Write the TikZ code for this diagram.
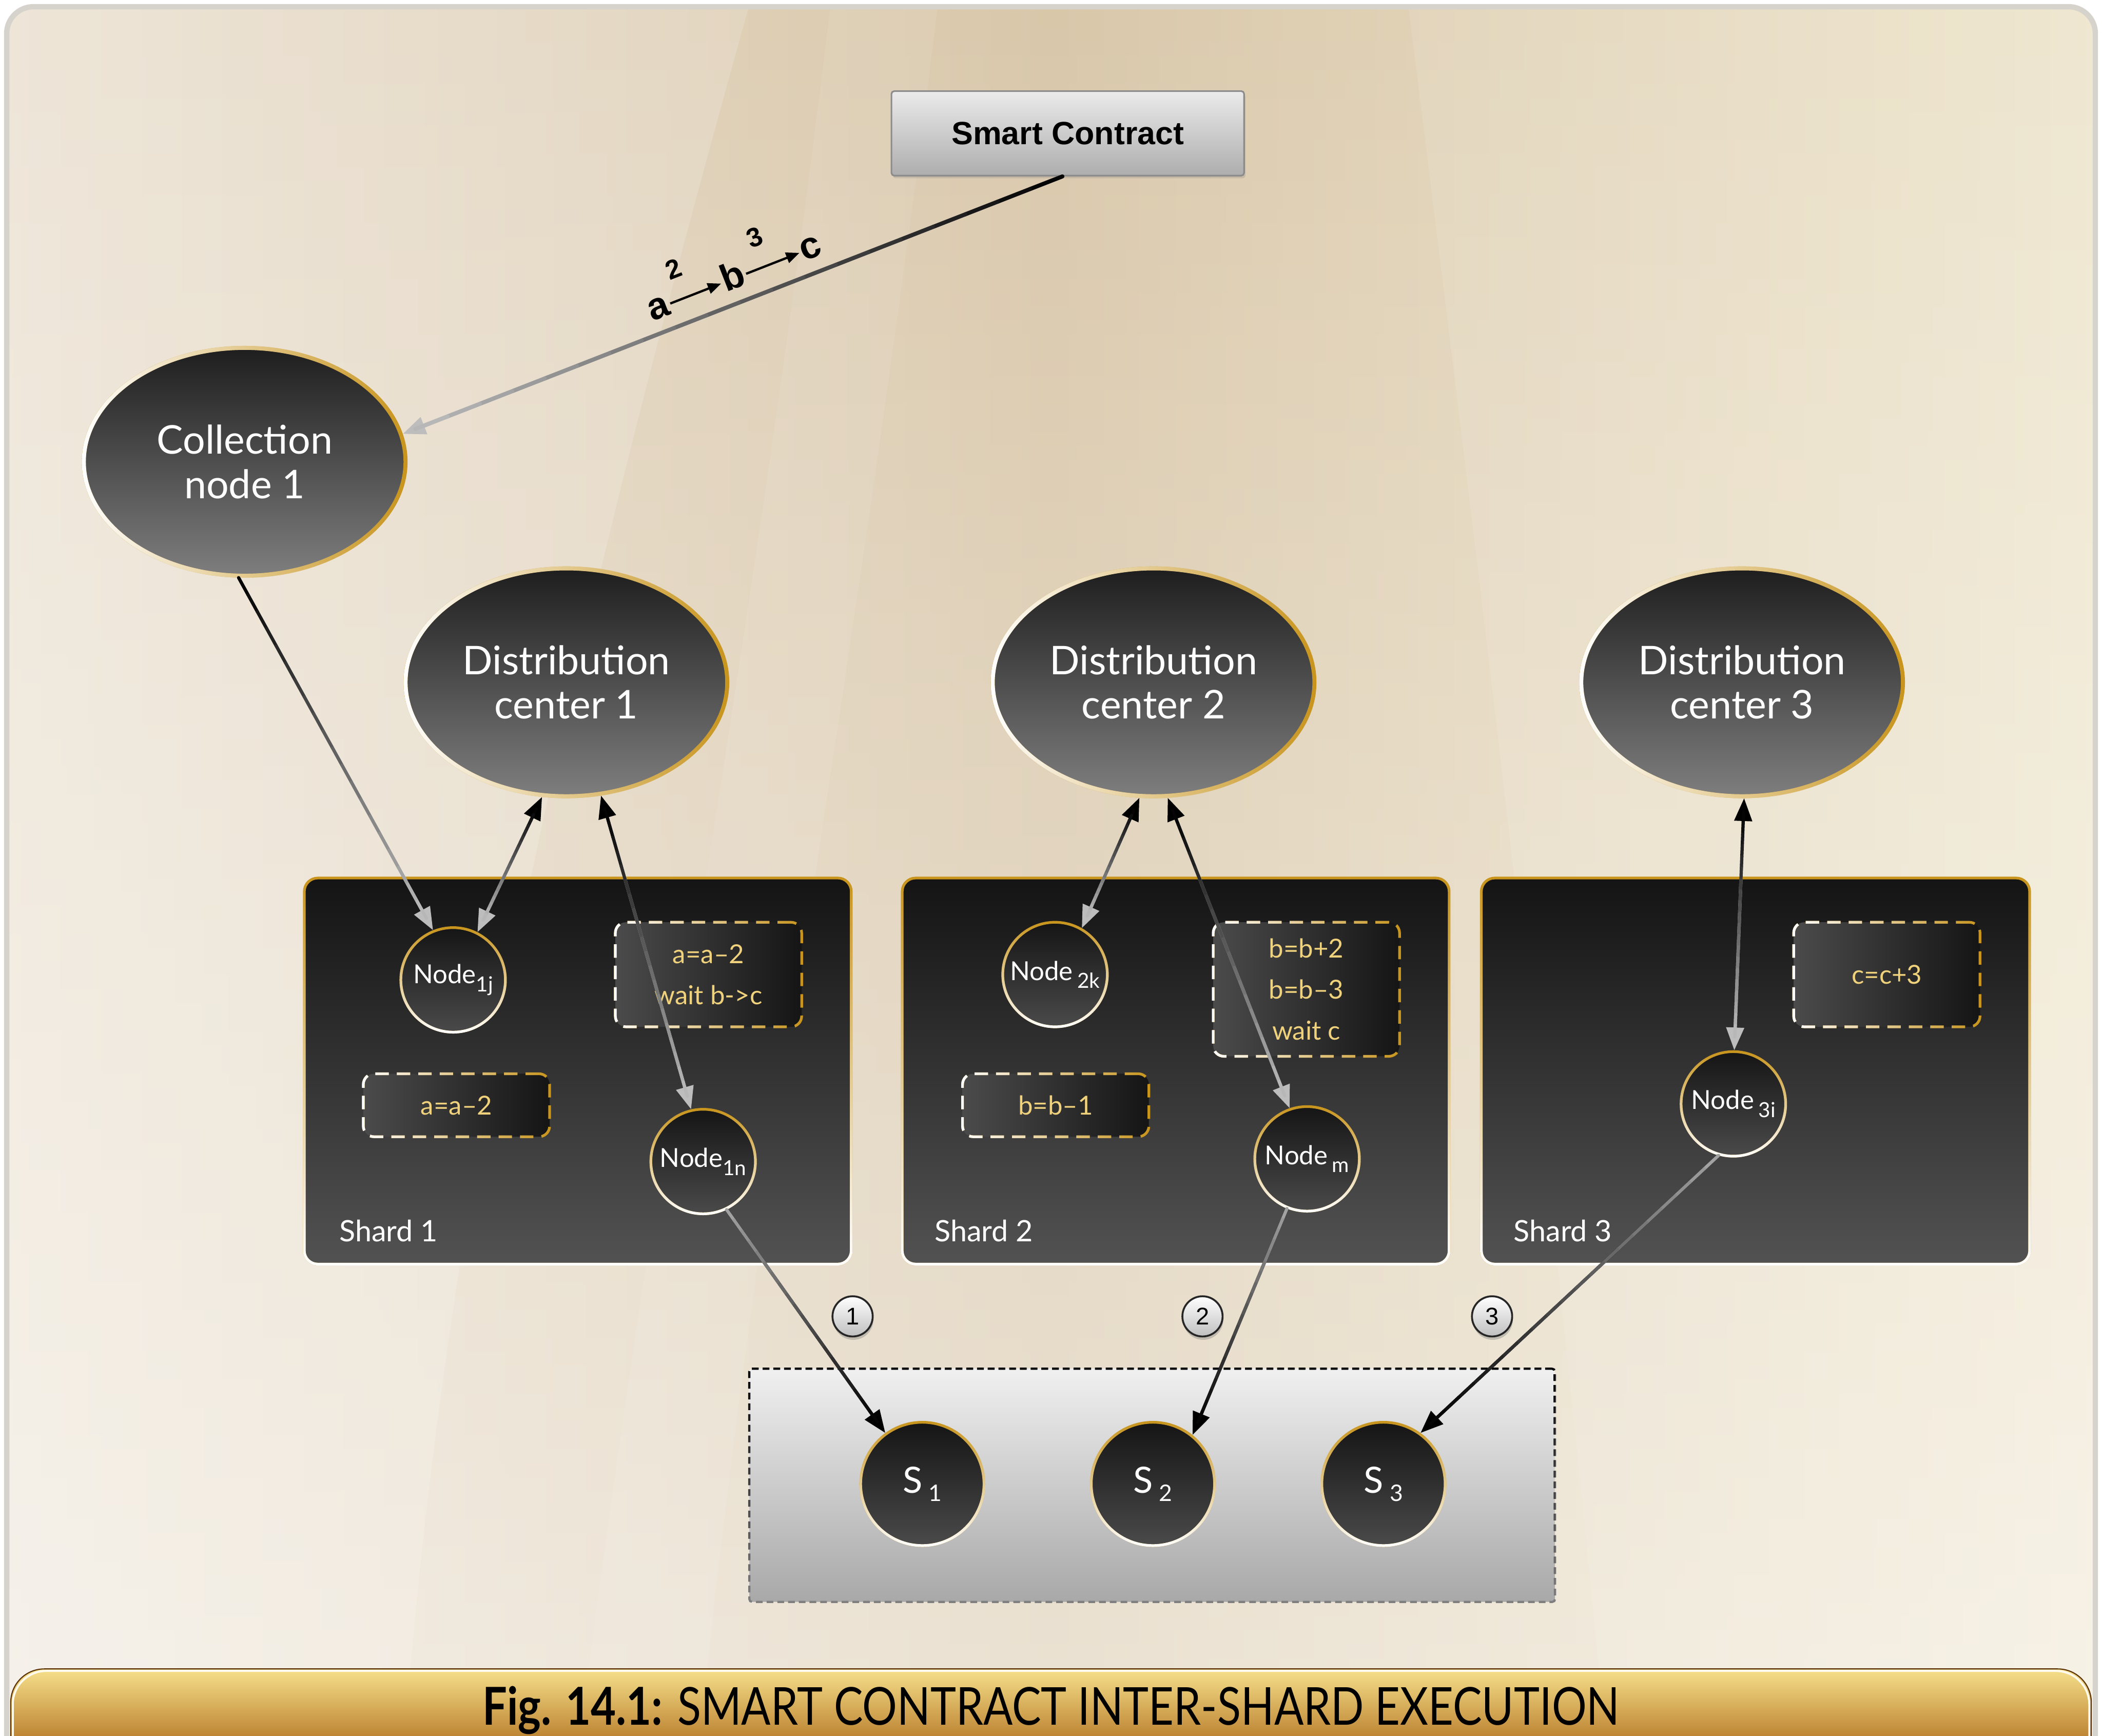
\documentclass[tikz,border=0pt]{standalone}
\usepackage{fontspec}
\usepackage{graphicx}
\setmainfont{Lato}
\newfontfamily\arialfont{Liberation Sans}
\usetikzlibrary{shapes.geometric,arrows.meta,calc,fadings,shadows}

\definecolor{frameline}{HTML}{D6D3CC}
\definecolor{bgL}{HTML}{EBE1D1}
\definecolor{bgM}{HTML}{D9C7AA}
\definecolor{bgR}{HTML}{EEE5CC}
\definecolor{gold}{HTML}{C8941C}
\definecolor{goldtxt}{HTML}{F1D27C}
\definecolor{ellTop}{HTML}{1E1E1E}
\definecolor{ellBot}{HTML}{7E7E7E}
\definecolor{shTop}{HTML}{141414}
\definecolor{shBot}{HTML}{525252}
\definecolor{ndTop}{HTML}{151515}
\definecolor{ndBot}{HTML}{4A4A4A}
\definecolor{opL}{HTML}{4B4B4B}
\definecolor{opR}{HTML}{151515}
\definecolor{tipgrey}{HTML}{BDBDBD}
\definecolor{midgrey}{HTML}{A5A5A5}
\definecolor{capTop}{HTML}{F6E08B}
\definecolor{capBot}{HTML}{A25909}

\tikzfading[name=fadeR, left color=transparent!0, right color=transparent!100]
\tikzfading[name=fadeB, top color=transparent!100, bottom color=transparent!0]
\tikzfading[name=fadeT, top color=transparent!0, bottom color=transparent!100]

\newcommand\nsub[1]{\raisebox{-6pt}{\fontsize{15.5}{15.5}\selectfont #1}}
\newcommand\ssub[1]{\raisebox{-6pt}{\fontsize{17}{17}\selectfont #1}}

% connector whose colour runs from #5 (start) to #6 (end)
\newcommand\linkgrad[8][2.4pt]{%
  \draw[line width=#1, color=#6, #2] (#3) -- (#4);
  \path (#3) coordinate (lgA) (#4) coordinate (lgB);
  \path ($(lgA)!#7!(lgB)$) coordinate (lgP) ($(lgB)!#8!(lgA)$) coordinate (lgQ);
  \foreach \k in {1,...,20}{%
    \pgfmathtruncatemacro\mixv{round(100-(\k-0.5)*5)}%
    \draw[line width=#1, line cap=round, color=#5!\mixv!#6]
      ($(lgP)!{(\k-1)/20}!(lgQ)$) -- ($(lgP)!{\k/20}!(lgQ)$);
  }}

\tikzset{
  tipblack/.tip={Triangle[length=17pt,width=13pt,color=black]},
  tipgray/.tip={Triangle[length=17pt,width=13pt,color=tipgrey]},
  scbox/.style={rectangle, rounded corners=2pt, minimum width=263pt, minimum height=63pt,
    top color=white!92!black, bottom color=white!68!black, draw=white!55!black, line width=1.2pt,
    font=\arialfont\bfseries\fontsize{24}{24}\selectfont, text=black,
    drop shadow={opacity=0.25, shadow xshift=1pt, shadow yshift=-2pt}},
  bigell/.style={ellipse, minimum width=240pt, minimum height=170pt, inner sep=0pt,
    top color=ellTop, bottom color=ellBot, draw=gold, line width=3pt,
    postaction={draw=white, line width=3pt, path fading=fadeR},
    text=white, align=center, font=\fontsize{29.5}{33}\selectfont},
  shardbox/.style={rectangle, rounded corners=10pt, minimum width=#1, minimum height=288pt,
    top color=shTop, bottom color=shBot, draw=gold, line width=2pt,
    postaction={draw=white, line width=2pt, path fading=fadeB}},
  shardlbl/.style={anchor=west, text=white, font=\fontsize{22}{22}\selectfont, inner sep=0pt},
  pnode/.style={circle, minimum size=#1, inner sep=0pt,
    top color=ndTop, bottom color=ndBot, draw=gold, line width=2pt,
    postaction={draw=white, line width=2pt, path fading=fadeB},
    text=white, font=\fontsize{19.5}{19.5}\selectfont},
  opbox/.style={rectangle, rounded corners=8pt, minimum width=139pt, minimum height=#1, inner sep=0pt,
    left color=opL, right color=opR, draw=gold, line width=2pt, dash pattern=on 10pt off 6pt,
    postaction={draw=white, line width=2pt, dash pattern=on 10pt off 6pt, path fading=fadeR},
    text=goldtxt, align=center, font=\fontsize{19.5}{30.5}\selectfont},
  store/.style={rectangle, rounded corners=2pt, minimum width=601pt, minimum height=174pt,
    top color=white!94!black, bottom color=white!66!black, draw=white!50!black, line width=1.6pt,
    dash pattern=on 5pt off 3pt,
    postaction={draw=black, line width=1.6pt, dash pattern=on 5pt off 3pt, path fading=fadeT}},
  numlbl/.style={circle, minimum size=30pt, inner sep=0pt, top color=white, bottom color=white!75!black,
    draw=black!85, line width=1.4pt, font=\arialfont\fontsize{18}{18}\selectfont,
    drop shadow={opacity=0.4, shadow xshift=0.5pt, shadow yshift=-2.5pt}},
  seqtxt/.style={inner sep=0pt, text height=15pt, text depth=0pt, font=\arialfont\bfseries\fontsize{28}{28}\selectfont},
  seqnum/.style={inner sep=0pt, font=\arialfont\bfseries\fontsize{20}{20}\selectfont},
}

\begin{document}
\begin{tikzpicture}[x=1pt,y=-1pt]
\useasboundingbox (0,0) rectangle (1568,1295);
\fill[white] (0,0) rectangle (1568,1295);

% backdrop with soft light bands
\begin{scope}
  \clip[rounded corners=20pt] (5,5) rectangle (1563,1320);
  \fill[left color=bgL, right color=bgR, middle color=bgM] (0,0) rectangle (1568,1320);
  \fill[white, fill opacity=0.5, path fading=fadeB] (0,0) rectangle (1568,1320);
  \fill[white, fill opacity=0.16] (0,0) -- (560,0) .. controls (420,500) and (330,900) .. (300,1320) -- (0,1320) -- cycle;
  \fill[white, fill opacity=0.10] (1050,0) -- (1568,0) -- (1568,1320) -- (1200,1320) .. controls (1150,800) and (1100,400) .. (1050,0) -- cycle;
  \fill[white, fill opacity=0.08] (620,0) -- (700,0) .. controls (640,500) and (560,900) .. (520,1320) -- (430,1320) .. controls (480,900) and (560,500) .. (620,0) -- cycle;
\end{scope}
\draw[frameline, line width=4pt, rounded corners=20pt] (5,5) rectangle (1563,1320);

% top of the chain
\node[scbox] (sc) at (796.5,99.5) {Smart Contract};
\node[bigell] (cn) at (182.5,344.5) {Collection\\node 1};

% distribution centres
\node[bigell] (dc1) at (422.5,509) {Distribution\\center 1};
\node[bigell] (dc2) at (860.5,509) {Distribution\\center 2};
\node[bigell] (dc3) at (1299.5,509) {Distribution\\center 3};

% shards
\node[shardbox=408pt] (sh1) at (431,799) {};
\node[shardbox=408pt] (sh2) at (877,799) {};
\node[shardbox=409pt] (sh3) at (1309.5,799) {};
\node[shardlbl] (l1) at (253,918) {Shard 1};
\node[shardlbl] (l2) at (697,918) {Shard 2};
\node[shardlbl] (l3) at (1129,918) {Shard 3};

% pending operations
\node[opbox=78pt] (op1) at (528.5,727) {a=a–2\\wait b->c};
\node[opbox=47pt] (op2) at (340.5,824.5) {a=a–2};
\node[opbox=100pt] (op3) at (974.5,738) {b=b+2\\b=b–3\\wait c};
\node[opbox=47pt] (op4) at (787.5,824.5) {b=b–1};
\node[opbox=78pt] (op5) at (1407.5,727) {c=c+3};

% shard nodes
\node[pnode=78pt] (n1j) at (338,731) {Node\nsub{1j}};
\node[pnode=78pt] (n1n) at (524.5,866.5) {Node\nsub{1n}};
\node[pnode=78pt] (n2k) at (787,727) {Node\,\nsub{2k}};
\node[pnode=78pt] (nm) at (975,864.5) {Node\,\nsub{m}};
\node[pnode=78pt] (n3i) at (1293,823.5) {Node\,\nsub{3i}};

% settlement store
\node[store] (st) at (859.5,1108) {};
\node[pnode=92pt, font=\fontsize{27}{27}\selectfont] (s1) at (688,1107) {S\,\ssub{1}};
\node[pnode=92pt, font=\fontsize{27}{27}\selectfont] (s2) at (860,1107) {S\,\ssub{2}};
\node[pnode=92pt, font=\fontsize{27}{27}\selectfont] (s3) at (1032,1107) {S\,\ssub{3}};

\node[numlbl] (k1) at (636,982) {1};
\node[numlbl] (k2) at (897,982) {2};
\node[numlbl] (k3) at (1113,982) {3};

% connectors
\linkgrad[3pt]{-tipgray}{[xshift=-4pt]sc.south}{cn.10}{black}{tipgrey}{0pt}{10pt}
\linkgrad{-tipgray}{cn.-93}{n1j.112}{black}{tipgrey}{0pt}{10pt}
\linkgrad{tipblack-tipgray}{dc1.-102}{n1j.63}{black}{tipgrey}{10pt}{10pt}
\linkgrad{tipblack-tipgray}{dc1.-73}{n1n.103}{black}{tipgrey}{10pt}{10pt}
\linkgrad{tipblack-tipgray}{dc2.-97}{n2k.60}{black}{tipgrey}{10pt}{10pt}
\linkgrad{tipblack-tipgray}{dc2.-83}{nm.109}{black}{tipgrey}{10pt}{10pt}
\linkgrad{tipblack-tipgray}{dc3.-89}{n3i.89}{black}{tipgrey}{10pt}{10pt}
\linkgrad{-tipblack}{n1n.-64}{s1.126}{midgrey}{black}{0pt}{10pt}
\linkgrad{-tipblack}{nm.-112}{s2.51}{midgrey}{black}{0pt}{10pt}
\linkgrad{-tipblack}{n3i.-106}{s3.54}{midgrey}{black}{0pt}{10pt}

% execution order a -> b -> c along the contract line
\begin{scope}[shift={(547,208)}, rotate=21.4, transform shape]
  \node[seqtxt] (va) at (-60,0) {a};
  \node[seqtxt] (vb) at (0,0) {b};
  \node[seqtxt] (vc) at (62,0) {c};
  \node[seqnum] (q2) at (-39,-23) {2};
  \node[seqnum] (q3) at (26,-23) {3};
  \draw[line width=1.7pt, -{Triangle[length=10pt,width=8pt]}, shorten <=1.5pt, shorten >=1pt] (va) -- (vb);
  \draw[line width=1.7pt, -{Triangle[length=10pt,width=8pt]}, shorten <=1.5pt, shorten >=1pt] (vb) -- (vc);
\end{scope}

% caption band
\begin{scope}
  \clip (0,0) rectangle (1568,1295);
  \path[top color=capTop, bottom color=capBot, draw=black!45!capBot, line width=0.8pt, rounded corners=25pt]
    (8,1245) rectangle (1560,1320);
  \draw[white!85!capTop, line width=1.5pt, rounded corners=25pt] (9.5,1320) -- (9.5,1246.5) -- (1558.5,1246.5) -- (1558.5,1320);
\end{scope}
\node[anchor=base, inner sep=0pt, font=\fontsize{39}{39}\selectfont] (cap) at (784,1287)
  {\resizebox{848pt}{\height}{\textbf{Fig. 14.1:} SMART CONTRACT INTER-SHARD EXECUTION}};
\end{tikzpicture}
\end{document}
